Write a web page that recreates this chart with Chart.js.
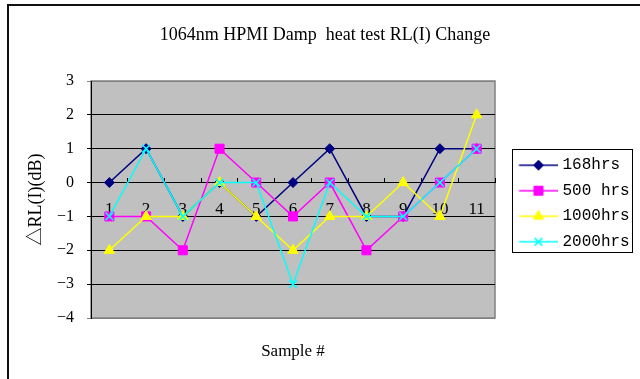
<!DOCTYPE html>
<html>
<head>
<meta charset="utf-8">
<script src="https://cdn.jsdelivr.net/npm/chart.js@4.4.1/dist/chart.umd.min.js"></script>
<style>
  body { margin: 0; background: #fff; }
  #wrap { position: relative; width: 640px; height: 379px; overflow: hidden; }
  #frame { position: absolute; left: 7px; top: 4px; width: 700px; height: 400px;
           border-left: 2px solid #111; border-top: 2px solid #111; }
  canvas { position: absolute; left: 0; top: 0; }
</style>
</head>
<body>
<div id="wrap"><div id="frame"></div><canvas id="chart" width="640" height="379"></canvas></div>
<script>
// samples on the x axis
const samples = ['1', '2', '3', '4', '5', '6', '7', '8', '9', '10', '11'];

// RL(I) change per sample, in dB
const hrs168  = [0, 1, -1, 0, -1, 0, 1, -1, -1, 1, 1];
const hrs500  = [-1, -1, -2, 1, 0, -1, 0, -2, -1, 0, 1];
const hrs1000 = [-2, -1, -1, 0, -1, -2, -1, -1, 0, -1, 2];
const hrs2000 = [-1, 1, -1, 0, 0, -3, 0, -1, -1, 0, 1];

const seriesNames = ['168hrs', '500 hrs', '1000hrs', '2000hrs'];
const yMin = -4;
const yMax = 3;

Chart.defaults.font.family = "'Liberation Serif', 'Times New Roman', 'Noto Sans CJK SC', serif";
Chart.defaults.color = '#000';

/**
 * gray plot area with a thin gray frame, like the old spreadsheet look
 */
const plotBackground = {
    id: 'plotBackground',
    beforeDraw(chart) {
        const {ctx, chartArea: a} = chart;
        ctx.save();
        ctx.fillStyle = '#c0c0c0';
        ctx.fillRect(a.left, a.top, a.width, a.height);
        ctx.strokeStyle = '#808080';
        ctx.lineWidth = 1.5;
        ctx.strokeRect(a.left, a.top, a.width, a.height);
        ctx.restore();
    }
};

/**
 * fixed legend width and a black box round the legend items
 */
const legendBox = {
    id: 'legendBox',
    beforeInit(chart) {
        const fit = chart.legend.fit;
        chart.legend.fit = function () {
            fit.call(this);
            this.width = 145;
        };
    },
    afterDraw(chart) {
        const boxes = chart.legend.legendHitBoxes;
        if (!boxes || !boxes.length) return;
        const first = boxes[0];
        const last = boxes[boxes.length - 1];
        let right = 0;
        boxes.forEach(b => { right = Math.max(right, b.left + b.width); });
        const {ctx} = chart;
        ctx.save();
        ctx.strokeStyle = '#000';
        ctx.lineWidth = 1;
        const left = first.left + 7.5;
        const top = first.top - 8;
        ctx.strokeRect(Math.round(left) + 0.5, Math.round(top) + 0.5,
            Math.round(right + 2 - left), Math.round(last.top + last.height + 2 - top));
        ctx.restore();
    }
};

/**
 * small picture with a line and the marker, for the legend
 * @param ds {Object} dataset
 * @returns {HTMLCanvasElement}
 */
function legendGlyph(ds) {
    const c = document.createElement('canvas');
    c.width = 56;
    c.height = 16;
    const ctx = c.getContext('2d');
    ctx.strokeStyle = ds.borderColor;
    ctx.fillStyle = ds.backgroundColor;
    ctx.lineWidth = 1.5;
    ctx.beginPath();
    ctx.moveTo(17.5, 8);
    ctx.lineTo(56, 8);
    ctx.stroke();
    ctx.lineWidth = ds.pointBorderWidth;
    Chart.helpers.drawPoint(ctx, {
        pointStyle: ds.pointStyle,
        radius: ds.pointRadius,
        rotation: 0,
        borderWidth: ds.pointBorderWidth
    }, 37, 8);
    return c;
}

function series(label, data, color, style, radius, order, pbw) {
    return {
        label: label,
        data: data,
        borderColor: color,
        backgroundColor: color,
        pointBackgroundColor: color,
        pointBorderColor: color,
        borderWidth: 1.5,
        pointStyle: style,
        pointRadius: radius,
        pointBorderWidth: pbw,
        tension: 0,
        fill: false,
        order: order
    };
}

new Chart(document.getElementById('chart'), {
    type: 'line',
    data: {
        labels: samples,
        datasets: [
            series(seriesNames[0], hrs168, '#000080', 'rectRot', 5, 3, 1),
            series(seriesNames[1], hrs500, '#ff00ff', 'rect', 6.4, 2, 1),
            series(seriesNames[2], hrs1000, '#ffff00', 'triangle', 6, 1, 1),
            series(seriesNames[3], hrs2000, '#00ffff', 'crossRot', 5.5, 0, 1.5)
        ]
    },
    options: {
        responsive: false,
        animation: false,
        events: [],
        layout: {padding: {left: 10, right: 0, top: 0, bottom: 0}},
        plugins: {
            title: {
                display: true,
                text: '1064nm HPMI Damp  heat test RL(I) Change',
                font: {size: 18, weight: 'normal'},
                color: '#000',
                padding: {top: 24.2, bottom: 35.2}
            },
            legend: {
                position: 'right',
                align: 'center',
                // empty title only pushes the items down a bit
                title: {display: true, text: ' ', font: {size: 10}, padding: 8},
                labels: {
                    font: {family: "'Liberation Mono', monospace", size: 16},
                    color: '#000',
                    usePointStyle: true,
                    pointStyleWidth: 50,
                    padding: 9.5,
                    generateLabels(chart) {
                        return chart.data.datasets.map((ds, i) => ({
                            text: ds.label,
                            pointStyle: legendGlyph(ds),
                            fillStyle: ds.backgroundColor,
                            strokeStyle: ds.borderColor,
                            lineWidth: 0,
                            hidden: false,
                            datasetIndex: i
                        }));
                    }
                }
            },
            tooltip: {enabled: false}
        },
        scales: {
            x: {
                type: 'category',
                position: {y: 0},
                offset: true,
                grid: {display: true, drawOnChartArea: false, drawTicks: true,
                       tickLength: -5, offset: true, color: '#000'},
                border: {display: true, color: '#000', width: 1},
                ticks: {font: {size: 17}, color: '#000', padding: 22,
                        maxRotation: 0, autoSkip: false}
            },
            x2: {
                type: 'category',
                labels: samples,
                position: 'bottom',
                grid: {display: false, drawTicks: false},
                border: {display: false},
                ticks: {display: false},
                title: {
                    display: true,
                    text: 'Sample #',
                    font: {size: 17},
                    color: '#000',
                    padding: {top: 23.8, bottom: 16.8}
                }
            },
            y: {
                min: yMin,
                max: yMax,
                ticks: {
                    stepSize: 1,
                    font: {size: 16},
                    color: '#000',
                    padding: 13,
                    callback: v => String(v).replace('-', '\u2212')
                },
                grid: {
                    color: c => (c.tick && (c.tick.value === yMax || c.tick.value === yMin)) ? '#808080' : '#000',
                    tickLength: 4,
                    lineWidth: 1
                },
                border: {display: true, color: '#000', width: 1},
                title: {
                    display: true,
                    text: '\u25B3RL(I)(dB)',
                    font: {size: 18},
                    color: '#000',
                    padding: {top: 15.7, bottom: 0}
                },
                afterFit(scale) {
                    scale.width = 81;
                }
            }
        }
    },
    plugins: [plotBackground, legendBox]
});
</script>
</body>
</html>
